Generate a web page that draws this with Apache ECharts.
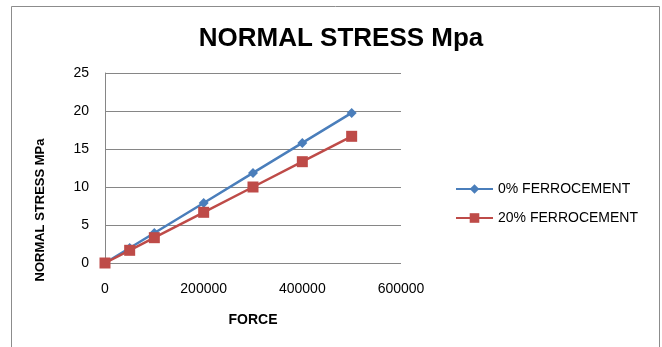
<!DOCTYPE html>
<html>
<head>
<meta charset="utf-8">
<script src="https://cdn.jsdelivr.net/npm/echarts@6/dist/echarts.min.js"></script>
<style>
  html, body { margin: 0; padding: 0; background: #fff; }
  #chart { width: 662px; height: 347px; }
</style>
</head>
<body>
<div id="chart"></div>
<script>
// force values (x) and stress readings for each mix
var force = [0, 50000, 100000, 200000, 300000, 400000, 500000];
var stress0 = [0, 1.97, 3.95, 7.9, 11.85, 15.8, 19.75];
var stress20 = [0, 1.67, 3.33, 6.67, 10, 13.33, 16.67];
var seriesNames = ['0% FERROCEMENT', '20% FERROCEMENT'];

function pairs(xs, ys) {
    var out = [];
    for (var i = 0; i < xs.length; i++) out.push([xs[i], ys[i]]);
    return out;
}

var chart = echarts.init(document.getElementById('chart'));
var font = 'Liberation Sans';
var option = {
    animation: false,
    backgroundColor: '#fff',
    graphic: [{
        type: 'rect',
        shape: { x: 11.5, y: 6.5, width: 648, height: 350 },
        style: { fill: 'none', stroke: '#8c8c8c', lineWidth: 1 }
    }],
    title: {
        text: 'NORMAL STRESS Mpa',
        left: 336, top: 21, textAlign: 'center',
        textStyle: { fontFamily: font, fontWeight: 'bold', fontSize: 26, color: '#000' }
    },
    legend: {
        orient: 'vertical',
        left: 455, top: 182, padding: 0,
        itemWidth: 37, itemHeight: 12, itemGap: 15,
        textStyle: { fontFamily: font, fontSize: 14, color: '#000' },
        data: seriesNames
    },
    grid: { left: 105, top: 73, width: 296, height: 190 },
    xAxis: {
        type: 'value', min: 0, max: 600000, interval: 200000,
        name: 'FORCE', nameLocation: 'middle', nameGap: 50,
        nameTextStyle: { fontFamily: font, fontWeight: 'bold', fontSize: 14, color: '#000' },
        axisLine: { show: false },
        axisTick: { show: false },
        splitLine: { show: false },
        axisLabel: {
            fontFamily: font, fontSize: 14, color: '#000', margin: 19,
            formatter: function (v) { return String(v); }
        }
    },
    yAxis: {
        type: 'value', min: 0, max: 25, interval: 5,
        name: 'NORMAL STRESS MPa', nameLocation: 'middle', nameGap: 58,
        nameTextStyle: {
            fontFamily: font, fontWeight: 'bold', fontSize: 13, color: '#000',
            padding: [0, 84, 0, 0]
        },
        axisLine: { show: true, lineStyle: { color: '#868686' } },
        axisTick: { show: false },
        splitLine: { show: true, lineStyle: { color: '#868686' } },
        axisLabel: { fontFamily: font, fontSize: 14, color: '#000', margin: 16 }
    },
    series: [{
        name: seriesNames[0], type: 'line',
        data: pairs(force, stress0),
        symbol: 'diamond', symbolSize: 10,
        lineStyle: { color: '#4A7EBB', width: 2.5 },
        itemStyle: { color: '#4A7EBB' }
    }, {
        name: seriesNames[1], type: 'line',
        data: pairs(force, stress20),
        symbol: 'rect', symbolSize: 11,
        lineStyle: { color: '#BE4B48', width: 2.5 },
        itemStyle: { color: '#BE4B48' }
    }]
};
chart.setOption(option);
</script>
</body>
</html>
